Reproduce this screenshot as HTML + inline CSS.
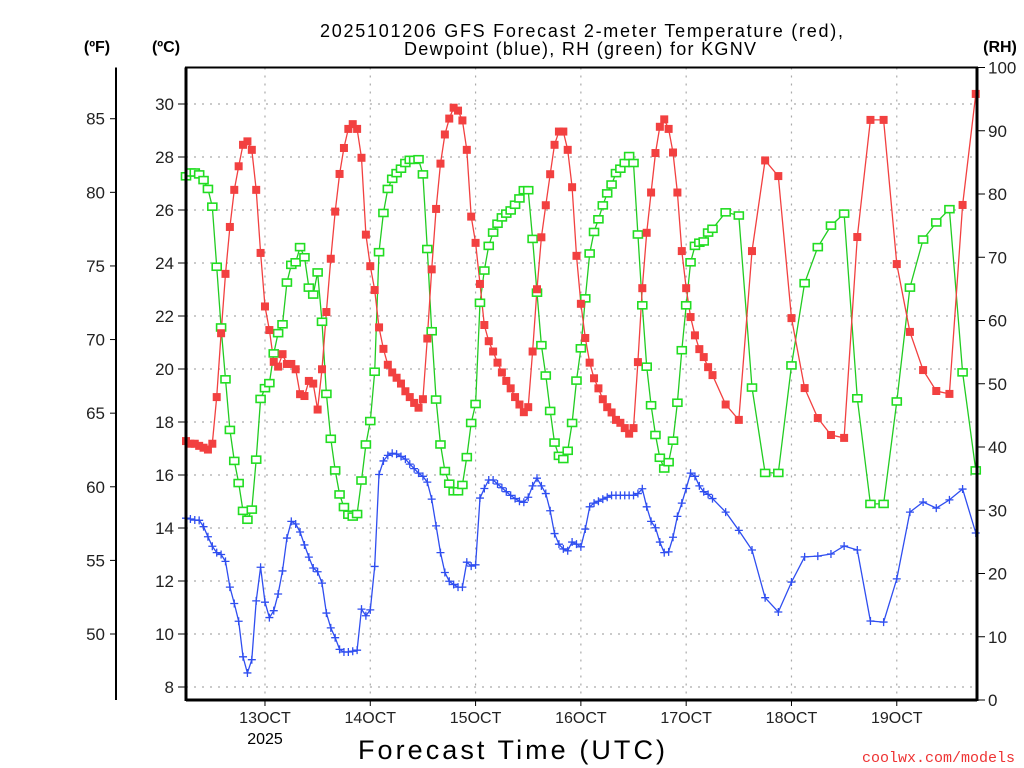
<!DOCTYPE html>
<html><head><meta charset="utf-8"><style>
html,body{margin:0;padding:0;background:#fff;width:1024px;height:768px;overflow:hidden}
svg{display:block;font-family:"Liberation Sans",sans-serif}
</style></head><body>
<svg id="chart" width="1024" height="768" viewBox="0 0 1024 768" xmlns="http://www.w3.org/2000/svg">
<g id="grid"></g>
<g id="series"></g>
<g id="axes"></g>
<text x="320" y="37" font-size="18" textLength="523" lengthAdjust="spacing">2025101206 GFS Forecast 2-meter Temperature (red),</text>
<text x="404" y="55" font-size="18" textLength="352" lengthAdjust="spacing">Dewpoint (blue), RH (green) for KGNV</text>
<text x="97" y="52" font-size="16" font-weight="bold" text-anchor="middle">(ºF)</text>
<text x="166" y="52" font-size="16" font-weight="bold" text-anchor="middle">(ºC)</text>
<text x="1000" y="52" font-size="16" font-weight="bold" text-anchor="middle">(RH)</text>
<text x="358" y="759" font-size="27" textLength="307" lengthAdjust="spacing">Forecast Time (UTC)</text>
<text x="265" y="744" font-size="16" text-anchor="middle">2025</text>
<text x="1015" y="762" font-size="15" fill="#e33" text-anchor="end" font-family="Liberation Mono, monospace">coolwx.com/models</text>
</svg>
<script>
// hours: hourly 0..120, then 3-hourly to 180
const hours = [];
for (let h = 0; h <= 120; h++) hours.push(h);
for (let h = 123; h <= 180; h += 3) hours.push(h);
const tempC = [17.28,17.18,17.18,17.1,17.03,16.96,17.18,18.94,21.35,23.59,25.36,26.76,27.65,28.46,28.59,28.27,26.76,24.38,22.36,21.47,20.27,20.09,20.56,20.19,20.19,19.99,19.05,18.98,19.55,19.45,18.47,19.99,22.15,24.16,25.94,27.36,28.34,29.06,29.24,29.06,27.97,25.07,23.88,22.98,21.57,20.76,
20.16,19.87,19.67,19.45,19.16,18.94,18.72,18.54,18.86,21.15,23.76,26.04,27.75,28.85,29.45,29.86,29.75,29.38,28.27,25.75,24.76,23.21,21.66,21.05,20.66,20.24,19.87,19.55,19.27,18.94,18.66,18.37,18.56,20.66,23.01,24.97,26.18,27.35,28.46,28.96,28.96,28.27,26.86,24.27,22.46,
21.17,20.24,19.65,19.27,18.86,18.56,18.36,18.08,17.97,17.77,17.56,17.77,20.26,23.05,25.14,26.66,28.15,29.14,29.42,29.06,28.17,26.66,24.45,23.05,21.96,21.27,20.75,20.45,20.07,19.77,
18.66,18.08,24.45,27.87,27.28,21.92,19.28,18.15,17.51,17.40,24.98,29.40,29.40,23.96,21.40,19.96,19.17,19.06,26.19,30.38];
const dewC = [14.37,14.34,14.3,14.29,14.05,13.67,13.31,13.07,13.0,12.74,11.77,11.15,10.48,9.14,8.53,9.03,11.25,12.52,11.2,10.62,10.88,11.51,12.38,13.62,14.25,14.15,13.85,13.36,12.9,12.49,12.35,11.92,10.79,10.23,9.86,9.42,9.32,9.32,9.35,9.39,10.94,10.69,10.91,12.55,16.02,16.53,
16.74,16.82,16.79,16.70,16.60,16.41,16.24,16.07,15.95,15.73,15.09,14.08,13.07,12.32,11.99,11.87,11.77,11.77,12.71,12.56,12.61,15.13,15.49,15.81,15.81,15.66,15.52,15.37,15.23,15.11,15.01,14.97,15.16,15.59,15.88,15.59,15.30,14.65,13.79,13.39,13.21,13.14,13.47,13.39,13.29,
13.96,14.80,14.94,15.01,15.09,15.16,15.23,15.23,15.23,15.23,15.23,15.23,15.30,15.48,14.80,14.25,14.01,13.47,13.07,13.10,13.65,14.44,14.94,15.49,16.07,15.95,15.59,15.37,15.27,15.11,
14.60,13.91,13.17,11.37,10.83,11.96,12.91,12.94,13.02,13.32,13.17,10.49,10.45,12.08,14.60,14.98,14.75,15.06,15.47,13.81];
const rhPct = [82.8,83.4,83.4,83.1,82.2,80.8,78.0,68.5,58.9,50.7,42.7,37.8,34.3,29.9,28.5,30.1,38.0,47.6,49.3,50.1,54.8,58.0,59.4,66.0,68.8,69.2,71.6,70.0,65.2,64.1,67.6,59.8,48.4,41.3,36.3,32.5,30.5,29.3,29.0,29.4,34.7,40.4,44.1,51.9,70.8,77.0,
80.8,82.4,83.3,84.0,84.9,85.4,85.4,85.5,83.1,71.3,58.3,47.5,40.4,36.2,34.2,33.0,33.0,34.0,38.4,43.8,46.8,62.8,67.9,71.8,73.9,75.3,76.3,76.9,77.4,78.3,79.3,80.6,80.6,72.9,64.4,56.1,51.3,45.7,40.7,38.6,38.1,39.4,43.8,50.5,55.6,
63.5,70.6,74.0,76.0,78.2,80.1,81.5,83.3,84.0,84.9,86.0,84.9,73.6,62.4,52.7,46.6,41.9,38.3,36.6,37.6,41.0,47.0,55.3,62.4,69.2,71.8,72.3,72.5,73.9,74.5,
77.1,76.6,49.4,35.9,35.9,52.9,65.9,71.6,75.0,76.9,47.7,31.0,31.0,47.2,65.2,72.8,75.5,77.6,51.8,36.3];
const cTicks = [8,10,12,14,16,18,20,22,24,26,28,30];
const fTicks = [50,55,60,65,70,75,80,85];
const rhTicks = [0,10,20,30,40,50,60,70,80,90,100];
const dayLabels = ["13OCT","14OCT","15OCT","16OCT","17OCT","18OCT","19OCT"];
const dayHours = [18,42,66,90,114,138,162];

const NS = "http://www.w3.org/2000/svg";
const L = 186, R = 977, T = 67.5, B = 700;
const xH = h => L + h * 105.3 / 24;
const yC = c => 104 + (30 - c) * 26.5;
const yF = f => yC((f - 32) * 5 / 9);
const yRH = r => B - r * (B - T) / 100;
function mk(tag, attrs, parent) {
  const e = document.createElementNS(NS, tag);
  for (const k in attrs) e.setAttribute(k, attrs[k]);
  parent.appendChild(e);
  return e;
}
const grid = document.getElementById('grid');
const axes = document.getElementById('axes');
const series = document.getElementById('series');

cTicks.forEach(c => {
  const y = yC(c);
  const g = mk('line', {x1: L, x2: R, y1: y, y2: y, stroke: '#aaa', 'stroke-width': 1.2, 'stroke-dasharray': '2,6'}, grid);
  
  
  const t = mk('line', {x1: L - 8, x2: L, y1: y, y2: y, stroke: '#000', 'stroke-width': 1}, axes);
  
  
  const lb = mk('text', {x: L - 12, y: y + 6, 'font-size': 17, 'text-anchor': 'end', fill: '#222'}, axes);
  lb.textContent = c;
  
  
});
dayHours.forEach((h, i) => {
  const x = xH(h);
  const g = mk('line', {x1: x, x2: x, y1: T, y2: B, stroke: '#aaa', 'stroke-width': 1.2, 'stroke-dasharray': '2,6'}, grid);
  
  
  const t = mk('line', {x1: x, x2: x, y1: B, y2: B + 6, stroke: '#000', 'stroke-width': 1}, axes);
  
  
  const lb = mk('text', {x: x, y: B + 23, 'font-size': 16, 'text-anchor': 'middle', fill: '#222'}, axes);
  lb.textContent = dayLabels[i];
  
  
});
fTicks.forEach(f => {
  const y = yF(f);
  const t = mk('line', {x1: 110, x2: 116, y1: y, y2: y, stroke: '#000', 'stroke-width': 1}, axes);
  
  
  const lb = mk('text', {x: 105, y: y + 6, 'font-size': 17, 'text-anchor': 'end', fill: '#222'}, axes);
  lb.textContent = f;
  
  
});
rhTicks.forEach(r => {
  const y = yRH(r);
  const t = mk('line', {x1: R, x2: R + 8, y1: y, y2: y, stroke: '#000', 'stroke-width': 1}, axes);
  
  
  const lb = mk('text', {x: R + 11, y: y + 6, 'font-size': 17, 'text-anchor': 'start', fill: '#222'}, axes);
  lb.textContent = r;
  
  
});
const fr = mk('rect', {x: L, y: T, width: R - L, height: B - T, fill: 'none', stroke: '#000', 'stroke-width': 2}, axes);


const lax = mk('line', {x1: L, x2: L, y1: T, y2: B + 1, stroke: '#000', 'stroke-width': 3}, axes);


const rax = mk('line', {x1: R, x2: R, y1: T, y2: B + 1, stroke: '#000', 'stroke-width': 3}, axes);


const bax = mk('line', {x1: L, x2: R, y1: B, y2: B, stroke: '#000', 'stroke-width': 3}, axes);


const fax = mk('line', {x1: 116, x2: 116, y1: T, y2: B, stroke: '#000', 'stroke-width': 2}, axes);



function drawLine(vals, yf, color, name) {
  const pts = vals.map((v, i) => xH(hours[i]).toFixed(1) + ',' + yf(v).toFixed(1)).join(' ');
  const p = mk('polyline', {points: pts, fill: 'none', stroke: color, 'stroke-width': 1.3}, series);
  
  
}
drawLine(rhPct, yRH, '#22cc22', 'rh-line');
drawLine(tempC, yC, '#f24040', 'temperature-line');
drawLine(dewC, yC, '#2f4ef0', 'dewpoint-line');
rhPct.forEach((v, i) => {
  const x = xH(hours[i]), y = yRH(v);
  const m = mk('rect', {x: x - 4.5, y: y - 3.5, width: 9, height: 7, fill: '#fff', stroke: '#22dd22', 'stroke-width': 1.6}, series);
  
  
});
tempC.forEach((v, i) => {
  const x = xH(hours[i]), y = yC(v);
  const m = mk('rect', {x: x - 4, y: y - 4, width: 8, height: 8, fill: '#f24040'}, series);
  
  
});
dewC.forEach((v, i) => {
  const x = xH(hours[i]), y = yC(v);
  const m = mk('path', {d: `M${x - 4},${y}H${x + 4}M${x},${y - 4}V${y + 4}`, stroke: '#2f4ef0', 'stroke-width': 1.3, fill: 'none'}, series);
  
  
});
</script>
</body></html>
